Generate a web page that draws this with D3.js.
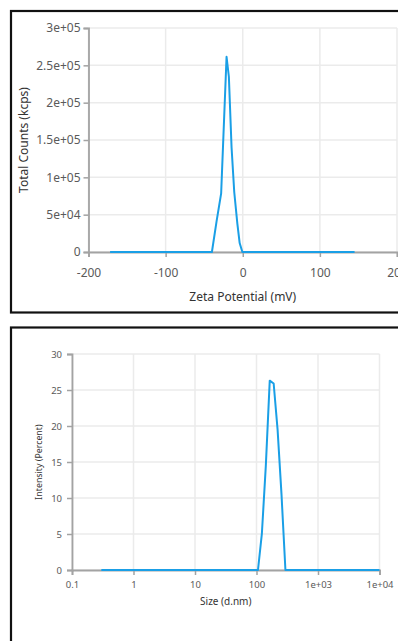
<!DOCTYPE html>
<html>
<head>
<meta charset="utf-8">
<script src="https://cdn.jsdelivr.net/npm/d3@7"></script>
<style>
  html, body { margin: 0; padding: 0; background: #fff; }
  svg { display: block; font-family: "Noto Sans", "Open Sans", sans-serif; }
</style>
</head>
<body>
<svg id="chart" width="398" height="641"></svg>
<script>
// Zeta potential distribution
const zetaMv = [-172, -40, -34, -28, -21, -18, -14.5, -11, -7, -4, -0.5, 145];
const zetaCounts = [0, 0, 40600, 78600, 261500, 234700, 140000, 80000, 38000, 12000, 0, 0];
const zetaXTicks = [-200, -100, 0, 100, 200];
const zetaYTicks = [0, 50000, 100000, 150000, 200000, 250000, 300000];
const zetaYLabels = ['0', '5e+04', '1e+05', '1.5e+05', '2e+05', '2.5e+05', '3e+05'];

// Size distribution by intensity
const sizeNm = [0.3, 1, 10, 91.28, 105.7, 122.4, 141.8, 164.2, 190.1, 220.2, 255.0, 295.3, 342.0, 1000, 10000];
const intensityPct = [0, 0, 0, 0, 0, 5.1, 14.5, 26.3, 25.9, 19.5, 10.5, 0, 0, 0, 0];
const sizeXTicks = [0.1, 1, 10, 100, 1000, 10000];
const sizeXLabels = ['0.1', '1', '10', '100', '1e+03', '1e+04'];
const sizeYTicks = [0, 5, 10, 15, 20, 25, 30];

const lineColor = '#1a9fe6';
const gridColor = '#ebebeb';
const axisColor = '#a3a3a3';
const tickText = '#5a5a5a';
const titleText = '#333';

const svg = d3.select('#chart');

// panel frames
svg.append('rect')
  .attr('x', 11).attr('y', 11).attr('width', 420).attr('height', 301.5)
  .attr('fill', 'none').attr('stroke', '#111').attr('stroke-width', 2.2);
svg.append('rect')
  .attr('x', 11).attr('y', 327.5).attr('width', 420).attr('height', 340)
  .attr('fill', 'none').attr('stroke', '#111').attr('stroke-width', 2.2);

function drawPanel(opt) {
  const g = svg.append('g');
  const x = opt.x, y = opt.y;
  const [x0, x1] = x.range();
  const [y0, y1] = y.range();

  // grid
  g.append('g').selectAll('line').data(opt.yTicks).join('line')
    .attr('x1', x0).attr('x2', x1)
    .attr('y1', d => y(d)).attr('y2', d => y(d))
    .attr('stroke', gridColor).attr('stroke-width', 1.5);
  g.append('g').selectAll('line').data(opt.xTicks).join('line')
    .attr('x1', d => x(d)).attr('x2', d => x(d))
    .attr('y1', y0).attr('y2', y1)
    .attr('stroke', gridColor).attr('stroke-width', 1.5);

  // axes
  const xAxis = g.append('g')
    .attr('transform', `translate(0,${y0})`)
    .call(d3.axisBottom(x).tickValues(opt.xTicks).tickSize(5)
      .tickPadding(opt.xPad).tickFormat((d, i) => opt.xLabels[i]));
  const yAxis = g.append('g')
    .attr('transform', `translate(${x0},0)`)
    .call(d3.axisLeft(y).tickValues(opt.yTicks).tickSize(5)
      .tickPadding(opt.yPad).tickFormat((d, i) => opt.yLabels[i]));

  [xAxis, yAxis].forEach(a => {
    a.select('.domain').attr('stroke', axisColor).attr('stroke-width', 1.8);
    a.selectAll('.tick line').attr('stroke', axisColor).attr('stroke-width', 1.5);
    a.selectAll('.tick text')
      .attr('fill', tickText)
      .style('font-size', opt.tickFont + 'px')
      .style('font-family', '"Noto Sans", sans-serif');
  });

  // line
  const line = d3.line()
    .x((d, i) => x(opt.xs[i]))
    .y(d => y(d));
  g.append('path')
    .datum(opt.ys)
    .attr('fill', 'none')
    .attr('stroke', lineColor)
    .attr('stroke-width', 2)
    .attr('stroke-linejoin', 'round')
    .attr('d', line);

  // titles
  g.append('text')
    .attr('x', (x0 + x1) / 2).attr('y', opt.xTitleY)
    .attr('text-anchor', 'middle')
    .attr('fill', titleText)
    .style('font-size', opt.titleFont + 'px')
    .text(opt.xTitle);
  g.append('text')
    .attr('transform', `translate(${opt.yTitleX},${(y0 + y1) / 2}) rotate(-90)`)
    .attr('text-anchor', 'middle')
    .attr('fill', titleText)
    .style('font-size', opt.yTitleFont + 'px')
    .text(opt.yTitle);
}

drawPanel({
  x: d3.scaleLinear().domain([-200, 200]).range([88.5, 397]),
  y: d3.scaleLinear().domain([0, 300000]).range([252, 28]),
  xs: zetaMv, ys: zetaCounts,
  xTicks: zetaXTicks, xLabels: zetaXTicks.map(String),
  yTicks: zetaYTicks, yLabels: zetaYLabels,
  xPad: 11.5, yPad: 3, tickFont: 12, titleFont: 12, yTitleFont: 12,
  xTitle: 'Zeta Potential (mV)', xTitleY: 301,
  yTitle: 'Total Counts (kcps)', yTitleX: 28
});

drawPanel({
  x: d3.scaleLog().domain([0.1, 10000]).range([72, 379.5]),
  y: d3.scaleLinear().domain([0, 30]).range([570, 354]),
  xs: sizeNm, ys: intensityPct,
  xTicks: sizeXTicks, xLabels: sizeXLabels,
  yTicks: sizeYTicks, yLabels: sizeYTicks.map(String),
  xPad: 6.5, yPad: 5, tickFont: 9.5, titleFont: 10, yTitleFont: 8.8,
  xTitle: 'Size (d.nm)', xTitleY: 605,
  yTitle: 'Intensity (Percent)', yTitleX: 42
});
</script>
</body>
</html>
